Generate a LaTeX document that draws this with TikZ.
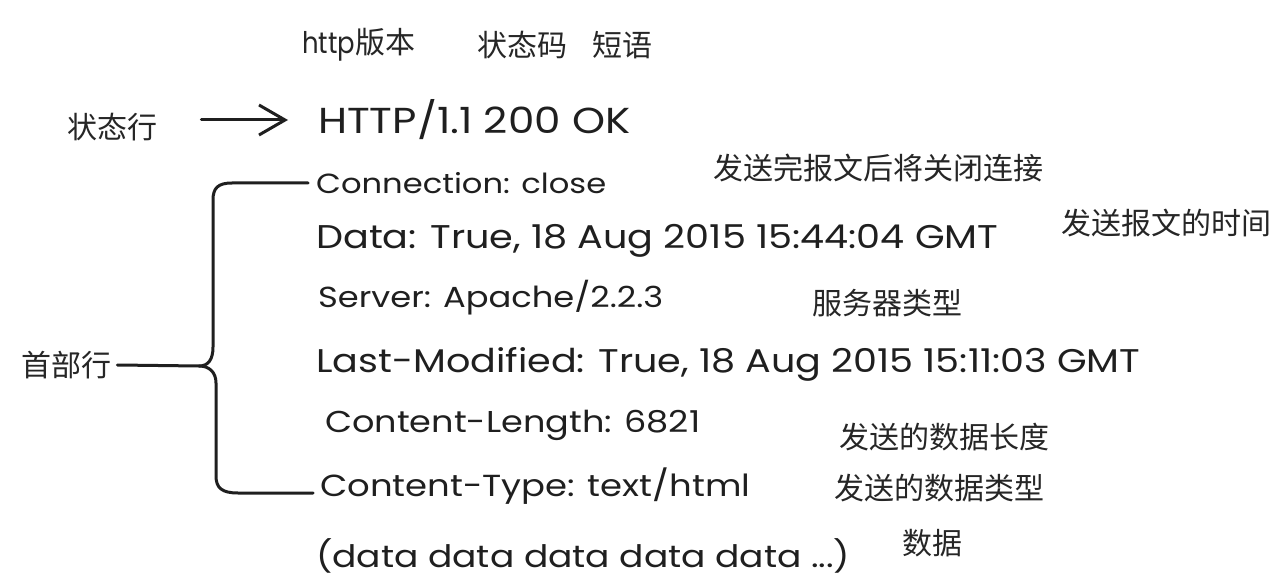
\documentclass[tikz,border=0pt]{standalone}
\usepackage{fontspec}
\setmainfont{Poppins}
\newfontfamily\hand{Poppins}
\newfontfamily\cjk{Noto Sans CJK SC}
\usetikzlibrary{arrows.meta}
\newcommand{\fw}[2]{\scalebox{1}[0.86]{\resizebox{#1pt}{!}{\hand #2}}}
\begin{document}
\begin{tikzpicture}[x=1pt,y=-1pt,
  ink/.style={draw=black!88, line width=3pt, line cap=round, line join=round},
  arr/.style={ink, -{Straight Barb[length=26pt,width=30pt,line width=3pt]}},
  en/.style={anchor=west, inner sep=0, text=black!88, font=\hand\fontsize{26}{30}\selectfont},
  zh/.style={anchor=west, inner sep=0, text=black!85, font=\cjk\fontsize{30}{33}\selectfont}]
\useasboundingbox[fill=white] (0,0) rectangle (1282,588);

% top labels
\node[zh] (ver) at (302,45) {\scalebox{1}[1.15]{\resizebox{53pt}{!}{\hand http}}版本};
\node[zh] (code) at (477,45) {状态码};
\node[zh] (phrase) at (592,45) {短语};

% left labels
\node[zh] (sl) at (67,127) {状态行};
\node[zh] (hd) at (21,365) {首部行};

% message lines
\node[en] (http) at (318,120) {\fw{312}{HTTP/1.1 200 OK}};
\node[en] (conn) at (316,183) {\fw{290}{Connection: close}};
\node[en] (date) at (316,241) {\fw{682}{Data: True, 18 Aug 2015 15:44:04 GMT}};
\node[en] (serv) at (318,298) {\fw{345}{Server: Apache/2.2.3}};
\node[en] (last) at (316,364) {\fw{824}{Last-Modified: True, 18 Aug 2015 15:11:03 GMT}};
\node[en] (clen) at (325,425) {\fw{375}{Content-Length: 6821}};
\node[en] (ctyp) at (320,486) {\fw{430}{Content-Type: text/html}};
\node[en] (data) at (316,556) {\fw{534}{(data data data data data ...)}};

% comments
\node[zh] (c1) at (713,168) {发送完报文后将关闭连接};
\node[zh] (c2) at (1061,223) {发送报文的时间};
\node[zh] (c3) at (812,303) {服务器类型};
\node[zh] (c4) at (839,437) {发送的数据长度};
\node[zh] (c5) at (834,488) {发送的数据类型};
\node[zh] (c6) at (902,543) {数据};

% arrow
\draw[arr] ([xshift=44pt]sl.east |- http.west) -- ([xshift=-30pt]http.west);

% brace
\coordinate (mid) at (199,366);
\draw[ink] ([xshift=6pt]hd.east) -- (mid)
  .. controls (208,366) and (213,360) .. (213,347)
  -- (213,200)
  .. controls (213,188) and (218,183) .. (232,183)
  -- ([xshift=-8pt]conn.west |- 0,183);
\draw[ink] (mid)
  .. controls (209,366) and (216,372) .. (216,383)
  -- (216,476)
  .. controls (216,488) and (222,493) .. (238,493)
  -- ([xshift=-7pt]ctyp.west |- 0,493);
\end{tikzpicture}
\end{document}
